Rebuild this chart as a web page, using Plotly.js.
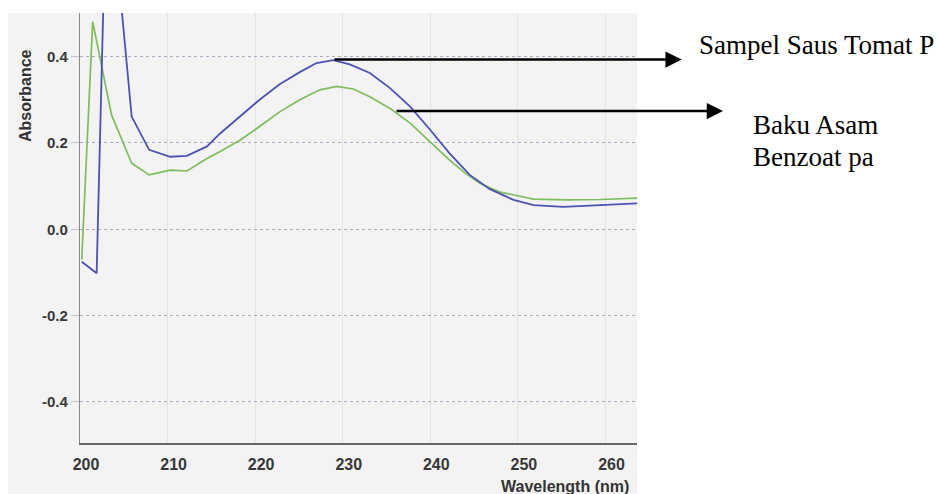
<!DOCTYPE html>
<html>
<head>
<meta charset="utf-8">
<script src="https://cdn.plot.ly/plotly-3.0.1.min.js"></script>
<style>html,body{margin:0;padding:0;background:#fff;}#chart{width:937px;height:494px;}</style>
</head>
<body>
<div id="chart"></div>
<script>
// Sampel Saus Tomat P (blue)
const sampleWavelength = [200.2, 201.9, 203.1, 205.9, 207.9, 210.3, 212.2, 214.5, 216.0, 218.3, 220.5, 222.8, 225.1, 227.0, 228.9, 230.8, 233.1, 235.4, 237.7, 240.0, 242.2, 244.5, 246.8, 249.5, 251.8, 255.2, 259.0, 263.6];
const sampleAbsorbance = [-0.075, -0.102, 0.87, 0.261, 0.184, 0.168, 0.170, 0.192, 0.222, 0.261, 0.300, 0.336, 0.364, 0.385, 0.392, 0.382, 0.362, 0.327, 0.284, 0.230, 0.176, 0.126, 0.093, 0.068, 0.056, 0.052, 0.056, 0.060];
// Baku Asam Benzoat pa (green)
const standardWavelength = [200.2, 201.45, 203.6, 205.9, 207.9, 210.3, 212.2, 214.5, 216.0, 218.3, 220.5, 222.8, 225.1, 227.4, 229.3, 231.2, 233.1, 235.4, 237.7, 240.0, 242.2, 243.8, 245.7, 248.0, 251.8, 255.6, 259.4, 263.6];
const standardAbsorbance = [-0.07, 0.481, 0.265, 0.153, 0.126, 0.137, 0.135, 0.164, 0.180, 0.207, 0.238, 0.272, 0.300, 0.323, 0.331, 0.325, 0.307, 0.280, 0.246, 0.203, 0.160, 0.133, 0.106, 0.086, 0.070, 0.068, 0.069, 0.072];
const xTicks = [200, 210, 220, 230, 240, 250, 260];
const yTicks = [-0.4, -0.2, 0.0, 0.2, 0.4];
const yTickText = ['-0.4', '-0.2', '0.0', '0.2', '0.4'];
const labelSample = 'Sampel Saus Tomat P';
const labelStandard1 = 'Baku Asam';
const labelStandard2 = 'Benzoat pa';

const L = 80, R = 637, T = 13, B = 443, W = 937, H = 494;
const px = v => (v - L) / (R - L);
const py = v => (B - v) / (B - T);

const traces = [
  {x: standardWavelength, y: standardAbsorbance, type: 'scatter', mode: 'lines',
   line: {color: '#7dbd5b', width: 1.7}, hoverinfo: 'skip'},
  {x: sampleWavelength, y: sampleAbsorbance, type: 'scatter', mode: 'lines',
   line: {color: '#4c52b2', width: 1.8}, hoverinfo: 'skip'}
];

const tickFont = {family: 'Liberation Sans, Arial, sans-serif', size: 15, color: '#383838', weight: 'bold'};
const serif = {family: 'Liberation Serif, Times New Roman, serif', size: 27, color: '#000'};

const layout = {
  width: W, height: H, autosize: false,
  margin: {l: L, r: W - R, t: T, b: H - B, pad: 0},
  paper_bgcolor: '#ffffff', plot_bgcolor: '#f3f3f3',
  showlegend: false,
  xaxis: {
    range: [200, 263.6], tickvals: xTicks, ticktext: xTicks.map(String),
    showgrid: true, gridcolor: '#e3e3e3', gridwidth: 1,
    showline: true, linecolor: '#666', linewidth: 1.6,
    zeroline: false, ticks: 'outside', ticklen: 6, tickcolor: 'rgba(0,0,0,0)',
    ticklabelshift: 6,
    tickfont: Object.assign({}, tickFont, {size: 16}), fixedrange: true
  },
  yaxis: {
    range: [-0.495, 0.501], tickvals: yTicks, ticktext: yTickText,
    showgrid: true, gridcolor: '#a9a9c4', gridwidth: 1, griddash: 'dot',
    showline: true, linecolor: '#888', linewidth: 1.2,
    zeroline: false, ticks: 'outside', ticklen: 8, tickcolor: '#c4c4d4',
    tickfont: tickFont, fixedrange: true
  },
  shapes: [
    {type: 'rect', xref: 'paper', yref: 'paper', x0: px(8), x1: 1, y0: py(494), y1: 1,
     fillcolor: '#f3f3f3', line: {width: 0}, layer: 'below'}
  ],
  annotations: [
    {xref: 'paper', yref: 'paper', x: px(25), y: py(96), text: 'Absorbance', textangle: -90,
     showarrow: false, font: {family: 'Liberation Sans, Arial, sans-serif', size: 16, color: '#333', weight: 'bold'},
     xanchor: 'center', yanchor: 'middle'},
    {xref: 'paper', yref: 'paper', x: px(565), y: py(486), text: 'Wavelength (nm)',
     showarrow: false, font: {family: 'Liberation Sans, Arial, sans-serif', size: 16, color: '#333', weight: 'bold'},
     xanchor: 'center', yanchor: 'middle'},
    {xref: 'paper', yref: 'paper', x: px(681.7), y: py(59.5), text: '', showarrow: true,
     arrowhead: 2, arrowsize: 1.3, arrowwidth: 2.5, arrowcolor: '#000', ax: 333 - 681.7, ay: 0, standoff: 0},
    {xref: 'paper', yref: 'paper', x: px(723), y: py(111), text: '', showarrow: true,
     arrowhead: 2, arrowsize: 1.3, arrowwidth: 2.5, arrowcolor: '#000', ax: 395 - 723, ay: 0, standoff: 0},
    {xref: 'paper', yref: 'paper', x: px(697), y: py(45), text: labelSample, showarrow: false,
     font: serif, xanchor: 'left', yanchor: 'middle'},
    {xref: 'paper', yref: 'paper', x: px(751), y: py(125), text: labelStandard1, showarrow: false,
     font: serif, xanchor: 'left', yanchor: 'middle'},
    {xref: 'paper', yref: 'paper', x: px(751), y: py(157), text: labelStandard2, showarrow: false,
     font: serif, xanchor: 'left', yanchor: 'middle'}
  ]
};

Plotly.newPlot('chart', traces, layout, {displayModeBar: false, staticPlot: true});
</script>
</body>
</html>
